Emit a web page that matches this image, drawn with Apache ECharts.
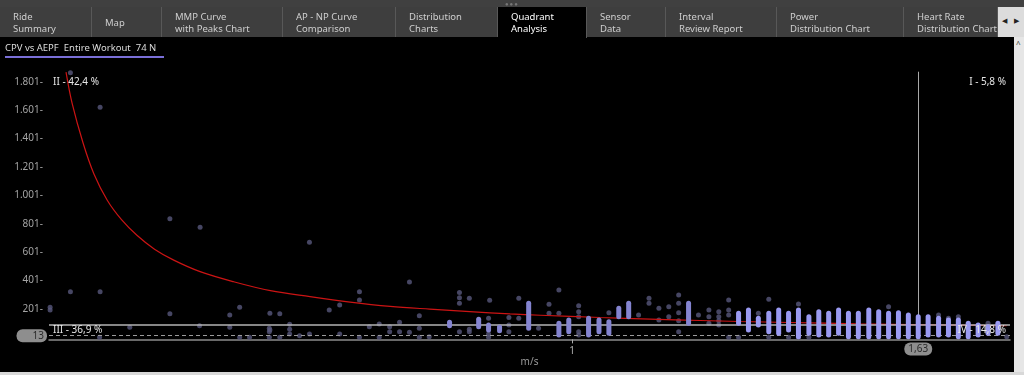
<!DOCTYPE html>
<html><head><meta charset="utf-8">
<script src="https://cdn.jsdelivr.net/npm/echarts@6/dist/echarts.min.js"></script>
<style>
html,body{margin:0;padding:0;background:#000;width:1024px;height:375px;overflow:hidden;font-family:"Noto Sans","Open Sans",sans-serif;}
#chart{position:absolute;left:0;top:0;width:1024px;height:375px;}
#top{position:absolute;left:0;top:0;width:1024px;height:7px;background:#404040;z-index:5;}
#grip{position:absolute;left:505px;top:2px;font-size:6px;color:#777;letter-spacing:1px;line-height:4px;}
#tabs{position:absolute;left:0;top:7px;width:998px;height:30px;background:#3e3e3e;z-index:5;}
.tab{position:absolute;top:0;height:30px;box-sizing:border-box;border-right:1px solid #585858;color:#cfcfcf;font-size:9.5px;line-height:12px;padding:4px 0 0 13px;white-space:pre;overflow:hidden;}
.tab.single{padding-top:10px;}
.tab.active{background:#000;color:#fff;height:31px;}
#arrows{position:absolute;left:998px;top:7px;width:26px;height:30px;background:#dcdcdc;z-index:5;font-size:7px;color:#222;}
#arrows span{position:absolute;top:9px;}
#rstrip{position:absolute;left:1014px;top:37px;width:10px;height:338px;background:#e6e6e6;z-index:5;}
#rstrip span{position:absolute;left:2px;top:1px;font-size:8px;color:#333;}
#bstrip{position:absolute;left:0;top:372px;width:1024px;height:3px;background:#d8d8d8;z-index:5;}
#title{position:absolute;left:5px;top:41px;font-size:9.5px;color:#dcdcdc;z-index:5;white-space:pre;padding:0 8px 2px 0;border-bottom:2px solid #7a6fd8;}
</style></head>
<body>
<div id="chart"></div>
<div id="top"><div id="grip">&#9679;&#9679;&#9679;</div></div>
<div id="tabs"></div>
<div id="arrows"><span style="left:4px">&#9664;</span><span style="left:16px">&#9654;</span></div>
<div id="rstrip"><span>^</span></div>
<div id="bstrip"></div>
<div id="title">CPV vs AEPF  Entire Workout  74 N</div>
<script>
// ---- UI text ----
const tabLabels = ["Ride\nSummary","Map","MMP Curve\nwith Peaks Chart","AP - NP Curve\nComparison","Distribution\nCharts","Quadrant\nAnalysis","Sensor\nData","Interval\nReview Report","Power\nDistribution Chart","Heart Rate\nDistribution Chart"];
const activeTab = 5;
const quadLabels = ["I - 5,8 %","II - 42,4 %","III - 36,9 %","IV - 14,8 %"];
const xAxisName = "m/s";
const xTickValues = [1];

// ---- chart values ----
const xMin = 0.048, xMax = 1.797;
const yMin = 1, yMax = 1872, yStep = 200;
const thresholdY = 88;
const thresholdX = 1.63;
const minY = 13;

// red iso-power curve
const curveX = [0.079,0.090,0.110,0.130,0.154,0.180,0.208,0.240,0.275,0.323,0.384,0.451,0.523,0.596,0.669,0.741,0.814,0.887,0.942,1.051,1.142,1.233,1.306,1.396,1.518,1.650,1.791];
const curveY = [1869,1650,1370,1150,967,830,720,622,545,464,393,330,288,250,220,200,182,166,157,141,130,120,113,106,97,90,83];

// sparse (dim) points
const dimX = [0.087,0.141,0.268,0.323,0.522,0.704,0.087,0.141,0.050,0.050,0.268,0.395,0.377,0.450,0.468,0.195,0.322,0.377,0.449,0.449,0.450,0.140,0.395,0.413,0.449,0.468,0.486,0.486,0.486,0.504,0.522,0.558,0.577,0.577,0.613,0.613,0.613,0.631,0.649,0.649,0.668,0.668,0.686,0.686,0.704,0.722,0.722,0.722,0.740,0.795,0.795,0.795,0.795,0.813,0.813,0.813,0.848,0.850,0.848,0.848,0.885,0.885,0.885,0.903,0.903,0.939,0.958,0.958,0.976,0.976,1.012,1.012,1.012,1.012,1.012,1.067,1.121,1.140,1.140,1.158,1.158,1.176,1.176,1.194,1.194,1.194,1.194,1.194,1.230,1.249,1.249,1.249,1.267,1.267,1.267,1.267,1.285,1.285,1.285,1.339,1.358,1.412,1.285,1.303,1.358,1.394,1.412,1.431,1.576,1.667,1.685,1.703,1.757,1.791,0.868];
const dimY = [1865,1621,837,776,671,391,323,323,213,194,168,213,159,171,168,72,83,72,65,41,53,2,2,2,2,2,93,58,25,13,25,194,229,25,323,264,2,76,95,2,76,41,107,41,37,154,65,2,6,318,281,241,41,276,58,41,136,262,25,2,142,88,41,276,136,65,234,171,335,171,224,182,147,41,18,175,159,276,241,206,124,217,147,300,241,175,119,41,159,194,147,100,182,147,118,88,264,194,159,171,269,236,2,2,2,2,2,2,217,159,136,147,100,6,76];

// dense columns of points (x, lowest, highest)
const colX  = [0.777,0.830,0.848,0.868,0.921,0.976,0.994,1.012,1.030,1.049,1.067,1.085,1.103,1.212,1.285,1.303,1.321,1.339,1.358,1.376,1.394,1.412,1.431,1.449,1.467,1.485,1.503,1.521,1.540,1.558,1.576,1.594,1.612,1.630,1.648,1.667,1.685,1.703,1.721,1.739,1.757,1.775];
const colLo = [83,76,53,48,65,18,41,100,18,41,30,147,147,100,81,100,53,88,41,30,53,6,30,18,18,30,6,6,6,6,6,6,6,6,18,18,18,6,6,18,30,30];
const colHi = [107,128,88,72,241,100,124,100,136,124,112,206,241,241,81,171,194,136,171,194,171,194,147,182,171,194,171,171,194,182,171,175,159,147,147,136,124,124,100,88,76,100];

function fmtY(v){
  if (v === yMin) return '';
  const s = v >= 1000 ? Math.floor(v/1000) + '.' + String(v % 1000).padStart(3,'0') : String(v);
  return s + '-';
}

// tabs
const tabEdges = [0,92,162,283,396,498,587,666,777,904,998];
const tabsEl = document.getElementById('tabs');
tabLabels.forEach((t,i)=>{
  const d = document.createElement('div');
  d.className = 'tab' + (t.indexOf('\n')<0 ? ' single' : '') + (i===activeTab ? ' active' : '');
  d.style.left = tabEdges[i] + 'px';
  d.style.width = (tabEdges[i+1]-tabEdges[i]) + 'px';
  d.textContent = t;
  tabsEl.appendChild(d);
});

const chart = echarts.init(document.getElementById('chart'), null, {renderer:'canvas'});
const dimData = dimX.map((x,i)=>[x, dimY[i]]);
const colData = colX.map((x,i)=>[x, colLo[i], colHi[i]]);
const curveData = curveX.map((x,i)=>[x, curveY[i]]);
const lblFont = '10px "Noto Sans"';

chart.setOption({
  animation:false,
  backgroundColor:'transparent',
  grid:{left:49, right:14, top:71.7, bottom:37.6, containLabel:false, outerBoundsMode:'none'},
  xAxis:{
    type:'value', min:xMin, max:xMax,
    name:xAxisName, nameLocation:'middle', nameGap:18, nameMoveOverlap:false,
    nameTextStyle:{color:'#9a9a9a', fontSize:10, fontFamily:'Noto Sans'},
    offset:2,
    axisLine:{show:true, lineStyle:{color:'#8c8c8c', width:1.5}},
    axisTick:{show:true, length:4, customValues:xTickValues, lineStyle:{color:'#aaa'}},
    axisLabel:{show:true, customValues:xTickValues, margin:7, color:'#b0b0b0', fontSize:10, fontFamily:'Noto Sans', formatter:v=>String(v)},
    splitLine:{show:false}
  },
  yAxis:{
    type:'value', min:yMin, max:yMax, interval:yStep,
    axisLine:{show:false}, axisTick:{show:false}, splitLine:{show:false},
    axisLabel:{margin:6, showMaxLabel:false, color:'#a4a4a4', fontSize:10, fontFamily:'"Liberation Sans Narrow", "Noto Sans"', formatter:fmtY}
  },
  graphic:[
    {type:'text', left:53, top:77, z:10, style:{text:quadLabels[1], fill:'#e6e6e6', font:lblFont}},
    {type:'text', right:18, top:77, z:10, style:{text:quadLabels[0], fill:'#e6e6e6', font:lblFont}},
    {type:'text', left:53, top:325, z:10, style:{text:quadLabels[2], fill:'#e6e6e6', font:lblFont}},
    {type:'text', right:18, top:325, z:10, style:{text:quadLabels[3], fill:'#e6e6e6', font:lblFont}}
  ],
  series:[
    {
      type:'scatter', data:dimData, symbolSize:5, z:3,
      itemStyle:{color:'#58587c'},
      markLine:{
        silent:true, symbol:'none', animation:false,
        data:[
          {yAxis:thresholdY, lineStyle:{color:'#b4b4b4', width:1.5, type:'solid'}, label:{show:false}},
          {yAxis:minY, lineStyle:{color:'#9a9a9a', width:1, type:[4,3]},
            label:{show:true, position:'start', distance:2, formatter:String(minY), color:'#2a2a2a', fontSize:10, fontFamily:'Noto Sans',
              backgroundColor:'#8e8e8e', borderRadius:6, padding:[2,3,1,16]}},
          {xAxis:thresholdX, lineStyle:{color:'#a8a8a8', width:1, type:'solid'},
            label:{show:true, position:'start', distance:5, formatter:'1,63', color:'#2a2a2a', fontSize:10, fontFamily:'Noto Sans',
              backgroundColor:'#8e8e8e', borderRadius:6, padding:[2,4,1,4]}}
        ]
      }
    },
    {
      type:'line', data:curveData, smooth:0.35, showSymbol:false, z:4,
      lineStyle:{color:'#cc1414', width:1.2}
    },
    {
      type:'custom', data:colData, z:5,
      encode:{x:0, y:[1,2]},
      renderItem:function(params, api){
        const x = api.value(0);
        const p1 = api.coord([x, api.value(1)]);
        const p2 = api.coord([x, api.value(2)]);
        const c = x < 1.3 ? '#8484d0' : '#9a9af2';
        return {type:'line', shape:{x1:p1[0], y1:p1[1], x2:p2[0], y2:p2[1]},
          style:{stroke:c, lineWidth:5, lineCap:'round'}};
      }
    }
  ]
});
</script>
</body></html>
